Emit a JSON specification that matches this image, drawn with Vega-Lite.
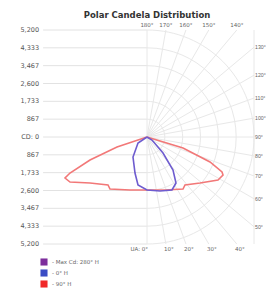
{
  "$schema": "https://vega.github.io/schema/vega-lite/v6.json",
  "width": 214,
  "height": 214,
  "autosize": "none",
  "padding": {"left": 40, "top": 30, "right": 12, "bottom": 47},
  "background": "white",
  "title": {"text": "Polar Candela Distribution", "fontSize": 8.5, "font": "DejaVu Sans", "fontWeight": "bold", "color": "#333", "anchor": "middle", "offset": 4},
  "config": {"view": {"stroke": null}, "font": "DejaVu Sans"},
  "datasets": {
    "hgrid": [{"x0": -5050, "x1": 0, "y": 5200, "t": "5,200"}, {"x0": -5050, "x1": 0, "y": 4333.33, "t": "4,333"}, {"x0": -5050, "x1": 0, "y": 3466.67, "t": "3,467"}, {"x0": -5050, "x1": 0, "y": 2600, "t": "2,600"}, {"x0": -5050, "x1": 0, "y": 1733.33, "t": "1,733"}, {"x0": -5050, "x1": 0, "y": 866.67, "t": "867"}, {"x0": -5050, "x1": 0, "y": 0, "t": "CD: 0"}, {"x0": -5050, "x1": 0, "y": -866.67, "t": "867"}, {"x0": -5050, "x1": 0, "y": -1733.33, "t": "1,733"}, {"x0": -5050, "x1": 0, "y": -2600, "t": "2,600"}, {"x0": -5050, "x1": 0, "y": -3466.67, "t": "3,467"}, {"x0": -5050, "x1": 0, "y": -4333.33, "t": "4,333"}, {"x0": -5050, "x1": 0, "y": -5200, "t": "5,200"}],
    "rays": [
      {"a": 0, "sx": 0, "sy": 0, "ex": 0, "ey": -5200}, {"a": 10, "sx": 0, "sy": 0, "ex": 916.9, "ey": -5200}, {"a": 20, "sx": 0, "sy": 0, "ex": 1892.6, "ey": -5200}, {"a": 30, "sx": 0, "sy": 0, "ex": 3002.2, "ey": -5200}, {"a": 40, "sx": 0, "sy": 0, "ex": 4363.3, "ey": -5200},
      {"a": 50, "sx": 0, "sy": 0, "ex": 5200, "ey": -4363.3}, {"a": 60, "sx": 0, "sy": 0, "ex": 5200, "ey": -3002.2}, {"a": 70, "sx": 0, "sy": 0, "ex": 5200, "ey": -1892.6}, {"a": 80, "sx": 0, "sy": 0, "ex": 5200, "ey": -916.9}, {"a": 90, "sx": 0, "sy": 0, "ex": 5200, "ey": 0},
      {"a": 100, "sx": 0, "sy": 0, "ex": 5200, "ey": 916.9}, {"a": 110, "sx": 0, "sy": 0, "ex": 5200, "ey": 1892.6}, {"a": 120, "sx": 0, "sy": 0, "ex": 5200, "ey": 3002.2}, {"a": 130, "sx": 0, "sy": 0, "ex": 5200, "ey": 4363.3},
      {"a": 140, "sx": 0, "sy": 0, "ex": 4363.3, "ey": 5200}, {"a": 150, "sx": 0, "sy": 0, "ex": 3002.2, "ey": 5200}, {"a": 160, "sx": 0, "sy": 0, "ex": 1892.6, "ey": 5200}, {"a": 170, "sx": 0, "sy": 0, "ex": 916.9, "ey": 5200}, {"a": 180, "sx": 0, "sy": 0, "ex": 0, "ey": 5200},
      {"a": 999, "sx": 5200, "sy": -5200, "ex": 5200, "ey": 5200}
    ],
    "rings": [{"cx": 0, "cy": 0, "r": 866.67}, {"cx": 0, "cy": 0, "r": 1733.33}, {"cx": 0, "cy": 0, "r": 2600}, {"cx": 0, "cy": 0, "r": 3466.67}, {"cx": 0, "cy": 0, "r": 4333.33}, {"cx": 0, "cy": 0, "r": 5200}],
    "curves": [
      {"s": "- 90° H", "i": 0, "x": 0, "y": 0},
      {"s": "- 90° H", "i": 1, "x": -1458, "y": -486},
      {"s": "- 90° H", "i": 2, "x": -2770, "y": -1118},
      {"s": "- 90° H", "i": 3, "x": -3742, "y": -1750},
      {"s": "- 90° H", "i": 4, "x": -3985, "y": -1993},
      {"s": "- 90° H", "i": 5, "x": -3742, "y": -2187},
      {"s": "- 90° H", "i": 6, "x": -2770, "y": -2236},
      {"s": "- 90° H", "i": 7, "x": -1895, "y": -2333},
      {"s": "- 90° H", "i": 8, "x": -1798, "y": -2527},
      {"s": "- 90° H", "i": 9, "x": -826, "y": -2576},
      {"s": "- 90° H", "i": 10, "x": 0, "y": -2576},
      {"s": "- 90° H", "i": 11, "x": 875, "y": -2576},
      {"s": "- 90° H", "i": 12, "x": 1750, "y": -2527},
      {"s": "- 90° H", "i": 13, "x": 1847, "y": -2333},
      {"s": "- 90° H", "i": 14, "x": 2576, "y": -2236},
      {"s": "- 90° H", "i": 15, "x": 3451, "y": -2090},
      {"s": "- 90° H", "i": 16, "x": 3694, "y": -1847},
      {"s": "- 90° H", "i": 17, "x": 3645, "y": -1701},
      {"s": "- 90° H", "i": 18, "x": 3062, "y": -1215},
      {"s": "- 90° H", "i": 19, "x": 1750, "y": -535},
      {"s": "- 90° H", "i": 20, "x": 0, "y": 0},
      {"s": "- 0° H", "i": 0, "x": 0, "y": 0},
      {"s": "- 0° H", "i": 1, "x": -437, "y": -292},
      {"s": "- 0° H", "i": 2, "x": -680, "y": -972},
      {"s": "- 0° H", "i": 3, "x": -583, "y": -1750},
      {"s": "- 0° H", "i": 4, "x": -437, "y": -2333},
      {"s": "- 0° H", "i": 5, "x": 0, "y": -2576},
      {"s": "- 0° H", "i": 6, "x": 632, "y": -2624},
      {"s": "- 0° H", "i": 7, "x": 1215, "y": -2576},
      {"s": "- 0° H", "i": 8, "x": 1409, "y": -2236},
      {"s": "- 0° H", "i": 9, "x": 1264, "y": -1604},
      {"s": "- 0° H", "i": 10, "x": 778, "y": -778},
      {"s": "- 0° H", "i": 11, "x": 243, "y": -146},
      {"s": "- 0° H", "i": 12, "x": 0, "y": 0}
    ],
    "toplabels": [{"x": 0, "y": 5200, "t": "180°"}, {"x": 916.9, "y": 5200, "t": "170°"}, {"x": 1892.6, "y": 5200, "t": "160°"}, {"x": 3002.2, "y": 5200, "t": "150°"}, {"x": 4363.3, "y": 5200, "t": "140°"}],
    "botlabels": [{"x": 916.9, "y": -5200, "t": "10°"}, {"x": 1892.6, "y": -5200, "t": "20°"}, {"x": 3002.2, "y": -5200, "t": "30°"}, {"x": 4363.3, "y": -5200, "t": "40°"}],
    "ualabel": [{"x": 0, "y": -5200, "t": "UA: 0°"}],
    "rightlabels": [{"x": 5200, "y": 4363.3, "t": "130°"}, {"x": 5200, "y": 3002.2, "t": "120°"}, {"x": 5200, "y": 1892.6, "t": "110°"}, {"x": 5200, "y": 916.9, "t": "100°"}, {"x": 5200, "y": 0, "t": "90°"}, {"x": 5200, "y": -916.9, "t": "80°"}, {"x": 5200, "y": -1892.6, "t": "70°"}, {"x": 5200, "y": -3002.2, "t": "60°"}, {"x": 5200, "y": -4363.3, "t": "50°"}]
  },
  "layer": [
    {
      "data": {"name": "hgrid"},
      "mark": {"type": "rule", "stroke": "#e2e2e2", "strokeWidth": 1},
      "encoding": {
        "y": {"field": "y", "type": "quantitative", "scale": {"domain": [-5200, 5200], "nice": false, "zero": false}, "axis": null},
        "x": {"field": "x0", "type": "quantitative", "scale": {"domain": [-5200, 5200], "nice": false, "zero": false}, "axis": null},
        "x2": {"field": "x1"}
      }
    },
    {
      "data": {"name": "hgrid"},
      "mark": {"type": "text", "fontSize": 6.5, "color": "#555", "baseline": "middle", "align": "right", "dx": -4},
      "encoding": {
        "y": {"field": "y", "type": "quantitative", "axis": null},
        "x": {"field": "x0", "type": "quantitative", "axis": null},
        "text": {"field": "t", "type": "nominal"}
      }
    },
    {
      "data": {"name": "rays"},
      "mark": {"type": "rule", "stroke": "#e8e8e8", "strokeWidth": 1},
      "encoding": {
        "x": {"field": "sx", "type": "quantitative", "axis": null},
        "y": {"field": "sy", "type": "quantitative", "axis": null},
        "x2": {"field": "ex"},
        "y2": {"field": "ey"}
      }
    },
    {
      "data": {"name": "rings"},
      "mark": {"type": "point", "shape": "M0,-1A1,1,0,0,1,0,1", "filled": false, "stroke": "#e8e8e8", "strokeWidth": 1, "opacity": 1},
      "encoding": {
        "x": {"field": "cx", "type": "quantitative", "axis": null},
        "y": {"field": "cy", "type": "quantitative", "axis": null},
        "size": {"field": "r", "type": "quantitative", "scale": {"type": "pow", "exponent": 2, "domain": [0, 5200], "range": [0, 45796], "zero": true}, "legend": null}
      }
    },
    {
      "data": {"name": "curves"},
      "mark": {"type": "point", "shape": "square", "filled": true, "opacity": 0},
      "encoding": {
        "x": {"field": "x", "type": "quantitative", "axis": null},
        "y": {"field": "y", "type": "quantitative", "axis": null},
        "color": {"field": "s", "type": "nominal",
          "scale": {"domain": ["- Max Cd: 280° H", "- 0° H", "- 90° H"], "range": ["#7d2e9c", "#3a4cc4", "#f02828"]},
          "legend": {"title": null, "orient": "none", "legendX": 0, "legendY": 228, "symbolType": "square", "symbolSize": 50, "symbolOpacity": 1, "symbolStrokeWidth": 0,
            "labelFontSize": 5.5, "labelColor": "#666", "labelFont": "DejaVu Sans", "rowPadding": 3, "labelOffset": 4}
        }
      }
    },
    {
      "data": {"name": "curves"},
      "mark": {"type": "line", "strokeWidth": 1.6},
      "encoding": {
        "x": {"field": "x", "type": "quantitative", "axis": null},
        "y": {"field": "y", "type": "quantitative", "axis": null},
        "order": {"field": "i", "type": "quantitative"},
        "stroke": {"field": "s", "type": "nominal",
          "scale": {"domain": ["- 0° H", "- 90° H"], "range": ["#6e5ccf", "#f27878"]},
          "legend": null}
      }
    },
    {
      "data": {"name": "toplabels"},
      "mark": {"type": "text", "fontSize": 5.5, "color": "#666", "baseline": "bottom", "align": "center", "dy": -2},
      "encoding": {
        "x": {"field": "x", "type": "quantitative", "axis": null},
        "y": {"field": "y", "type": "quantitative", "axis": null},
        "text": {"field": "t", "type": "nominal"}
      }
    },
    {
      "data": {"name": "botlabels"},
      "mark": {"type": "text", "fontSize": 5.5, "color": "#666", "baseline": "top", "align": "center", "dy": 3, "dx": 3},
      "encoding": {
        "x": {"field": "x", "type": "quantitative", "axis": null},
        "y": {"field": "y", "type": "quantitative", "axis": null},
        "text": {"field": "t", "type": "nominal"}
      }
    },
    {
      "data": {"name": "ualabel"},
      "mark": {"type": "text", "fontSize": 5.5, "color": "#666", "baseline": "top", "align": "right", "dy": 3, "dx": 1},
      "encoding": {
        "x": {"field": "x", "type": "quantitative", "axis": null},
        "y": {"field": "y", "type": "quantitative", "axis": null},
        "text": {"field": "t", "type": "nominal"}
      }
    },
    {
      "data": {"name": "rightlabels"},
      "mark": {"type": "text", "fontSize": 5.2, "font": "Liberation Sans", "color": "#666", "baseline": "middle", "align": "left", "dx": 1},
      "encoding": {
        "x": {"field": "x", "type": "quantitative", "axis": null},
        "y": {"field": "y", "type": "quantitative", "axis": null},
        "text": {"field": "t", "type": "nominal"}
      }
    }
  ]
}
